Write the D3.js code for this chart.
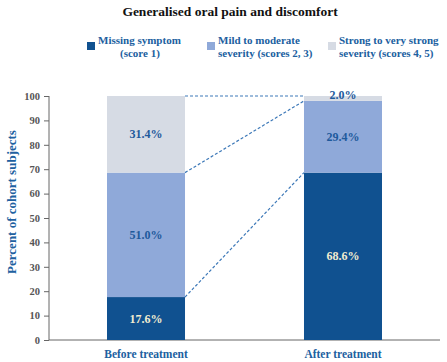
<!DOCTYPE html>
<html>
<head>
<meta charset="utf-8">
<script src="https://cdn.jsdelivr.net/npm/d3@7"></script>
<style>
  body { margin: 0; background: #fff; }
  text { font-family: "Liberation Serif", "DejaVu Serif", serif; font-weight: bold; }
</style>
</head>
<body>
<div id="chart"></div>
<script>
// data
const groups = ["Before treatment", "After treatment"];
const seriesNames = ["Missing symptom (score 1)", "Mild to moderate severity (scores 2, 3)", "Strong to very strong severity (scores 4, 5)"];
const missing = [17.6, 68.6];
const mild = [51.0, 29.4];
const strong = [31.4, 2.0];
const yTicks = [0, 10, 20, 30, 40, 50, 60, 70, 80, 90, 100];

const colors = ["#105190", "#8fa9d9", "#d6dbe4"];
const labelColors = ["#f2ecd0", "#1e5a9c", "#1e5a9c"];

const width = 447, height = 362;
const svg = d3.select("#chart").append("svg")
  .attr("width", width)
  .attr("height", height);

// title
svg.append("text")
  .attr("x", 230).attr("y", 16)
  .attr("text-anchor", "middle")
  .attr("font-size", 13.5)
  .attr("fill", "#111")
  .text("Generalised oral pain and discomfort");

// legend
const legend = [
  { x: 87, lines: ["Missing symptom", "(score 1)"], off2: 22 },
  { x: 207, lines: ["Mild to moderate", "severity (scores 2, 3)"], off2: 0 },
  { x: 328, lines: ["Strong to very strong", "severity (scores 4, 5)"], off2: 0 }
];
legend.forEach((l, i) => {
  svg.append("rect")
    .attr("x", l.x).attr("y", 42)
    .attr("width", 8).attr("height", 8)
    .attr("fill", colors[i]);
  svg.append("text")
    .attr("x", l.x + 11).attr("y", 44)
    .attr("font-size", 11).attr("fill", "#2060a0")
    .text(l.lines[0]);
  svg.append("text")
    .attr("x", l.x + 11 + l.off2).attr("y", 57)
    .attr("font-size", 11).attr("fill", "#2060a0")
    .text(l.lines[1]);
});

// scales
const y = d3.scaleLinear().domain([0, 100]).range([340, 96]);
const x = d3.scaleBand().domain(groups).range([67.6, 421.4]).paddingInner(0.604).paddingOuter(0.2);

// stacked data
const table = groups.map((g, i) => ({ group: g, s0: missing[i], s1: mild[i], s2: strong[i] }));
const stack = d3.stack().keys(["s0", "s1", "s2"])(table);

// y axis
const yAxis = svg.append("g")
  .attr("transform", "translate(49,0)")
  .call(d3.axisLeft(y).tickValues(yTicks).tickSize(5).tickPadding(4));
yAxis.select(".domain").attr("stroke", "#666").attr("d", "M0," + y(100) + "V" + y(0));
yAxis.selectAll(".tick line").attr("stroke", "#666");
yAxis.selectAll(".tick text")
  .attr("fill", "#555")
  .attr("font-size", 10.5)
  .attr("font-family", "Liberation Serif, serif")
  .attr("font-weight", "bold");

// x axis line
svg.append("line")
  .attr("x1", 49).attr("x2", 440)
  .attr("y1", y(0)).attr("y2", y(0))
  .attr("stroke", "#666");

// y title
svg.append("text")
  .attr("transform", "translate(16,202) rotate(-90)")
  .attr("text-anchor", "middle")
  .attr("font-size", 13)
  .attr("fill", "#2060a0")
  .text("Percent of cohort subjects");

// bars
stack.forEach((layer, k) => {
  svg.append("g").selectAll("rect")
    .data(layer)
    .join("rect")
    .attr("x", d => x(d.data.group))
    .attr("width", x.bandwidth())
    .attr("y", d => y(d[1]))
    .attr("height", d => y(d[0]) - y(d[1]))
    .attr("fill", colors[k]);
});

// dashed connectors
const bx = x(groups[0]) + x.bandwidth();
const ax = x(groups[1]);
const cum = k => stack[k].map(d => d[1]);
const connectors = [
  [cum(2)[0], cum(2)[1]],
  [cum(1)[0], cum(1)[1]],
  [cum(0)[0], cum(0)[1]]
];
svg.append("g").selectAll("line")
  .data(connectors)
  .join("line")
  .attr("x1", bx).attr("y1", d => y(d[0]))
  .attr("x2", ax).attr("y2", d => y(d[1]))
  .attr("stroke", "#3c78b8")
  .attr("stroke-width", 1.2)
  .attr("stroke-dasharray", "3,2");

// value labels
stack.forEach((layer, k) => {
  svg.append("g").selectAll("text")
    .data(layer)
    .join("text")
    .attr("x", d => x(d.data.group) + x.bandwidth() / 2)
    .attr("y", d => {
      const v = d[1] - d[0];
      return v < 5 ? y(d[1]) + 3 : y((d[0] + d[1]) / 2) + 4;
    })
    .attr("text-anchor", "middle")
    .attr("font-size", 12)
    .attr("fill", labelColors[k])
    .text(d => (d[1] - d[0]).toFixed(1) + "%");
});

// group labels
svg.append("g").selectAll("text")
  .data(groups)
  .join("text")
  .attr("x", d => x(d) + x.bandwidth() / 2)
  .attr("y", 358)
  .attr("text-anchor", "middle")
  .attr("font-size", 11.5)
  .attr("fill", "#2060a0")
  .text(d => d);
</script>
</body>
</html>
